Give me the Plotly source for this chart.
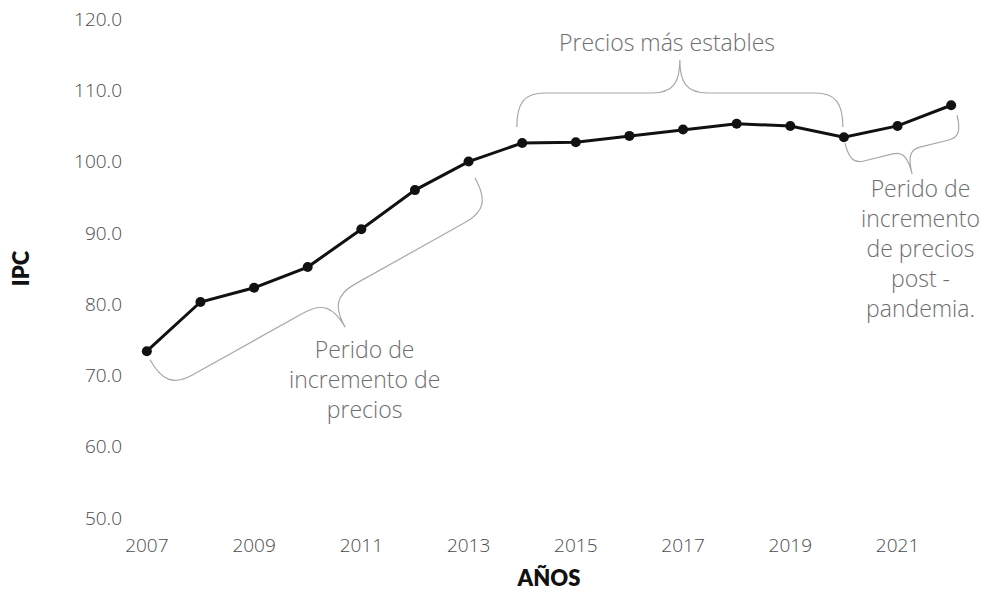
import math
import plotly.graph_objects as go

# ---- data ----
years = [2007, 2008, 2009, 2010, 2011, 2012, 2013, 2014, 2015,
         2016, 2017, 2018, 2019, 2020, 2021, 2022]
ipc = [73.4, 80.3, 82.3, 85.2, 90.5, 96.0, 100.0, 102.6, 102.7,
       103.6, 104.5, 105.3, 105.0, 103.4, 105.0, 107.9]
y_ticks = [50, 60, 70, 80, 90, 100, 110, 120]
x_ticks = [2007, 2009, 2011, 2013, 2015, 2017, 2019, 2021]

note_labels = ["Precios más estables",
               "Perido de<br>incremento de<br>precios",
               "Perido de<br>incremento<br>de precios<br>post -<br>pandemia."]

# ---- layout geometry ----
W, H = 987, 591
ML, MR, MT, MB = 127, 16, 19, 73
XR = [2006.63, 2022.37]
YR = [50, 120]
PW, PH = W - ML - MR, H - MT - MB
sx = PW / (XR[1] - XR[0])   # px per year
sy = PH / (YR[1] - YR[0])   # px per IPC unit


def to_px(x, y):
    return (x - XR[0]) * sx, -(y - YR[0]) * sy


def to_data(px, py):
    return XR[0] + px / sx, YR[0] - py / sy


def brace_path(x0, y0, x1, y1, w, a, r, side=1):
    """Curly brace between two data points, tip depth w px, arm offset a px."""
    p0 = to_px(x0, y0)
    p1 = to_px(x1, y1)
    dx, dy = p1[0] - p0[0], p1[1] - p0[1]
    L = math.hypot(dx, dy)
    u = (dx / L, dy / L)
    n = (-u[1] * side, u[0] * side)

    def P(s, t):
        px = p0[0] + s * u[0] + t * n[0]
        py = p0[1] + s * u[1] + t * n[1]
        dxv, dyv = to_data(px, py)
        return f"{dxv:.5f},{dyv:.5f}"

    m = L / 2
    segs = [
        f"M {P(0, 0)}",
        f"C {P(0, a * 0.7)} {P(r * 0.25, a)} {P(r, a)}",
        f"L {P(m - r, a)}",
        f"C {P(m - r * 0.25, a)} {P(m, a + (w - a) * 0.3)} {P(m, w)}",
        f"M {P(L, 0)}",
        f"C {P(L, a * 0.7)} {P(L - r * 0.25, a)} {P(L - r, a)}",
        f"L {P(m + r, a)}",
        f"C {P(m + r * 0.25, a)} {P(m, a + (w - a) * 0.3)} {P(m, w)}",
    ]
    return " ".join(segs)


fig = go.Figure()
fig.add_trace(go.Scatter(
    x=years, y=ipc, mode="lines+markers",
    line=dict(color="#111111", width=3),
    marker=dict(color="#111111", size=10),
    cliponaxis=False, showlegend=False,
))

brace_col = "#a8a8a8"
shapes = [
    dict(type="path", xref="x", yref="y",
         path=brace_path(2007.06, 72.2, 2013.12, 97.7, 67, 34, 30, side=1),
         line=dict(color=brace_col, width=1.2)),
    dict(type="path", xref="x", yref="y",
         path=brace_path(2013.90, 104.85, 2019.98, 104.85, 67, 34, 28, side=-1),
         line=dict(color=brace_col, width=1.2)),
    dict(type="path", xref="x", yref="y",
         path=brace_path(2020.02, 102.6, 2022.11, 106.5, 46, 22, 14, side=1),
         line=dict(color=brace_col, width=1.2)),
]

LIGHT = "Open Sans"
note_font = dict(family=LIGHT, size=23, color="#6e6e6e", weight=300)
annotations = [
    dict(x=2016.70, y=116.8, xref="x", yref="y", text=note_labels[0],
         showarrow=False, font=dict(family=LIGHT, size=23, color="#6e6e6e", weight=300)),
    dict(x=2011.05, y=69.5, xref="x", yref="y", text=note_labels[1],
         showarrow=False, font=note_font, align="center"),
    dict(x=2021.42, y=87.9, xref="x", yref="y", text=note_labels[2],
         showarrow=False, font=note_font, align="center"),
]

tick_font = dict(family=LIGHT, size=19, color="#4a4a4a", weight=300)
fig.update_layout(
    template="none",
    width=W, height=H,
    margin=dict(l=ML, r=MR, t=MT, b=MB, pad=0),
    paper_bgcolor="white", plot_bgcolor="white",
    shapes=shapes, annotations=annotations,
    xaxis=dict(range=XR, tickvals=x_ticks, ticktext=[str(v) for v in x_ticks],
               showgrid=False, zeroline=False, showline=False, ticks="",
               automargin=False,
               tickfont=tick_font, ticklabelstandoff=14,
               title=dict(text="AÑOS", standoff=14,
                          font=dict(family="Lato", size=22, color="#111111", weight=800))),
    yaxis=dict(range=YR, tickvals=y_ticks, ticktext=[f"{v:.1f}" for v in y_ticks],
               showgrid=False, zeroline=False, showline=False, ticks="",
               automargin=False,
               tickfont=tick_font, ticklabelstandoff=4,
               title=dict(text="IPC", standoff=38,
                          font=dict(family="Lato", size=22, color="#111111", weight=800))),
)

fig.write_html("out.html", config={"displayModeBar": False},
               post_script="document.body.style.margin='0px';")
